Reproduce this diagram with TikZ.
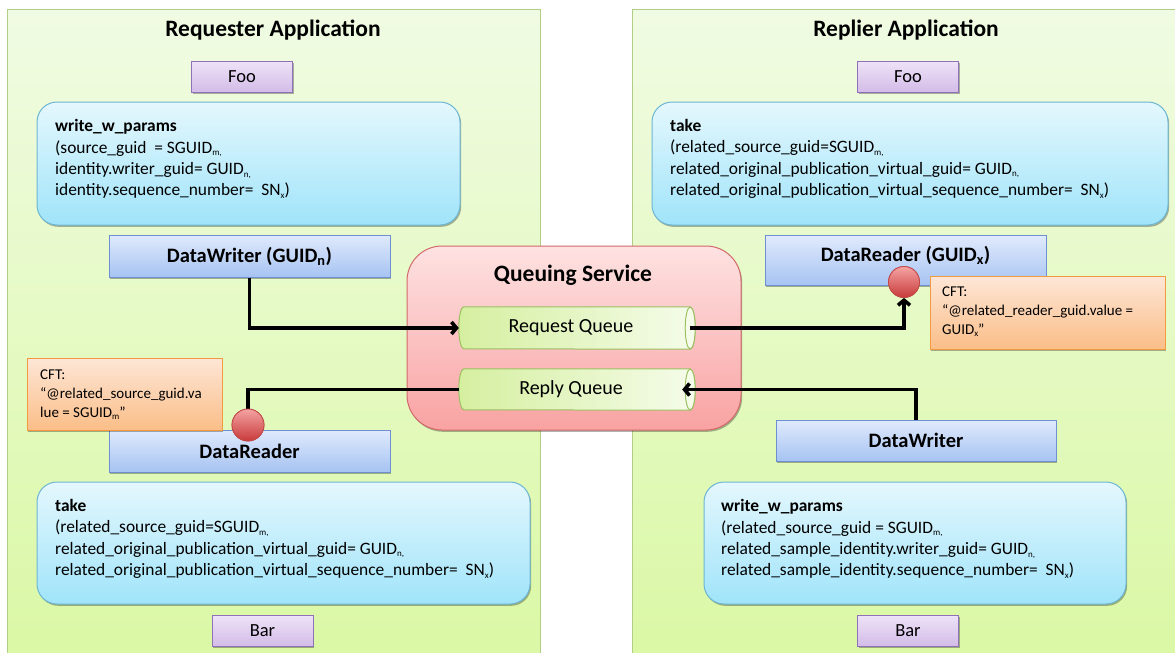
\documentclass[tikz,border=0pt]{standalone}
\usepackage{fontspec}
\setmainfont{Carlito}
\usetikzlibrary{arrows.meta,shadows}
\newcommand{\lowsub}[1]{\raisebox{-2.6pt}{\fontsize{9}{9}\selectfont #1}}
\definecolor{panelTop}{HTML}{F0FBE3}
\definecolor{panelBot}{HTML}{DAF8A4}
\definecolor{panelLine}{HTML}{B2CE86}
\definecolor{fooTop}{HTML}{EEE3F7}
\definecolor{fooBot}{HTML}{D3BCE8}
\definecolor{fooLine}{HTML}{9070B8}
\definecolor{opTop}{HTML}{E4F7FD}
\definecolor{opBot}{HTML}{A0E4FA}
\definecolor{opLine}{HTML}{6DB6D3}
\definecolor{epTop}{HTML}{E0EAFC}
\definecolor{epBot}{HTML}{A6C3F2}
\definecolor{epLine}{HTML}{6E8FD0}
\definecolor{qsTop}{HTML}{FEE2E2}
\definecolor{qsBot}{HTML}{F9A2A2}
\definecolor{qsLine}{HTML}{D26A6A}
\definecolor{qLeft}{HTML}{D5EFA0}
\definecolor{qRight}{HTML}{F5FCEA}
\definecolor{qLine}{HTML}{9DBF62}
\definecolor{cftTop}{HTML}{FDE6D6}
\definecolor{cftBot}{HTML}{FBBE88}
\definecolor{cftLine}{HTML}{F29A40}
\definecolor{ballTop}{HTML}{F5A3A3}
\definecolor{ballBot}{HTML}{C83A3A}
\definecolor{ballLine}{HTML}{C04848}
\begin{document}
\begin{tikzpicture}[x=1pt,y=-1pt,
  sh/.style={drop shadow={shadow xshift=1.2pt,shadow yshift=-1.8pt,opacity=.3,fill=black}},
  panel/.style={draw=panelLine,line width=1pt,top color=panelTop,bottom color=panelBot,inner sep=0pt},
  apptitle/.style={font=\fontsize{23.5}{28}\selectfont\bfseries},
  classbox/.style={sh,draw=fooLine,line width=1pt,top color=fooTop,bottom color=fooBot,inner sep=0pt,
    minimum width=101pt,minimum height=31pt,font=\fontsize{18.5}{22}\selectfont},
  opbox/.style={sh,draw=opLine,line width=1pt,top color=opTop,bottom color=opBot,rounded corners=20pt,inner sep=0pt},
  optext/.style={anchor=west,align=left,inner sep=0pt,font=\fontsize{17.4}{21.4}\selectfont},
  epbox/.style={sh,draw=epLine,line width=1pt,top color=epTop,bottom color=epBot,inner sep=0pt,
    minimum width=281pt,minimum height=42pt,font=\fontsize{20.5}{24}\selectfont\bfseries},
  qsbox/.style={sh,draw=qsLine,line width=1pt,top color=qsTop,bottom color=qsBot,rounded corners=35pt,inner sep=0pt},
  qbox/.style={inner sep=0pt,minimum width=231pt,minimum height=42pt},
  qbody/.style={draw=qLine,line width=1pt,left color=qLeft,right color=qRight},
  qtext/.style={inner sep=0pt,font=\fontsize{20}{24}\selectfont},
  cftbox/.style={sh,draw=cftLine,line width=1pt,top color=cftTop,bottom color=cftBot,inner sep=0pt},
  cfttext/.style={anchor=west,align=left,inner sep=0pt,font=\fontsize{15}{18.6}\selectfont},
  ball/.style={circle,draw=ballLine,line width=.8pt,top color=ballTop,bottom color=ballBot,inner sep=0pt,minimum size=31pt},
  conn/.style={line width=3.6pt,black},
  tip/.style={-{Straight Barb[length=5pt,width=12pt]}}
]
\useasboundingbox (0,0) rectangle (1175,653);

% application panels
\node[panel,minimum width=533pt,minimum height=655pt] (lp) at (273.5,337) {};
\node[panel,minimum width=545pt,minimum height=655pt] (rp) at (904.5,337) {};
\node[apptitle] (lpT) at (273,30) {Requester Application};
\node[apptitle] (rpT) at (906,30) {Replier Application};

% Foo / Bar
\node[classbox] (fooL) at (242,76.5) {Foo};
\node[classbox] (fooR) at (908,76.5) {Foo};
\node[classbox] (barL) at (262.5,630.5) {Bar};
\node[classbox] (barR) at (908,630.5) {Bar};

% operation boxes
\node[opbox,minimum width=423pt,minimum height=123pt] (opTL) at (248.5,163.5) {};
\node[optext] (tTL) at (55,159) {\textbf{write\_w\_params}\\
(source\_guid\ \ = SGUID\lowsub{m,}\\
identity.writer\_guid= GUID\lowsub{n,}\\
identity.sequence\_number=\ \ SN\lowsub{x})};

\node[opbox,minimum width=516pt,minimum height=123pt] (opTR) at (910,163.5) {};
\node[optext] (tTR) at (670,159) {\textbf{take}\\
(related\_source\_guid=SGUID\lowsub{m,}\\
related\_original\_publication\_virtual\_guid=\ GUID\lowsub{n,}\\
related\_original\_publication\_virtual\_sequence\_number=\ \ SN\lowsub{x})};

\node[opbox,minimum width=493pt,minimum height=122pt] (opBL) at (283.5,543) {};
\node[optext] (tBL) at (55,539) {\textbf{take}\\
(related\_source\_guid=SGUID\lowsub{m,}\\
related\_original\_publication\_virtual\_guid=\ GUID\lowsub{n,}\\
related\_original\_publication\_virtual\_sequence\_number=\ \ SN\lowsub{x})};

\node[opbox,minimum width=422pt,minimum height=122pt] (opBR) at (915,543) {};
\node[optext] (tBR) at (721,539) {\textbf{write\_w\_params}\\
(related\_source\_guid = SGUID\lowsub{m,}\\
related\_sample\_identity.writer\_guid= GUID\lowsub{n,}\\
related\_sample\_identity.sequence\_number=\ \ SN\lowsub{x})};

% endpoints
\node[epbox] (dwL) at (249.5,256) {DataWriter (GUID\textsubscript{n})};
\node[epbox,minimum height=50pt,text depth=13pt] (drR) at (905.5,260.5) {DataReader (GUID\textsubscript{x})};
\node[epbox] (drL) at (249.5,451) {DataReader};
\node[epbox,minimum width=280pt,minimum height=41pt] (dwR) at (916,440.5) {DataWriter};

% content filter boxes
\node[cftbox,minimum width=235pt,minimum height=73pt] (cftR) at (1047.5,312.5) {};
\node[cfttext] (cftRT) at (942,312) {CFT:\\
“@related\_reader\_guid.value =\\
GUID\lowsub{x}”};
\node[cftbox,minimum width=195pt,minimum height=72pt] (cftL) at (124.5,394) {};
\node[cfttext] (cftLT) at (40,395) {CFT:\\
“@related\_source\_guid.va\\
lue = SGUID\lowsub{m}”};

% queuing service
\node[qsbox,minimum width=334pt,minimum height=184pt] (qs) at (574,338) {};
\node[apptitle] (qsT) at (573,275) {Queuing Service};

\node[qbox] (rq) at (574.5,328) {};
\path[qbody] (rq.north east) -- ([xshift=5pt]rq.north west)
  arc[start angle=90,end angle=270,x radius=5pt,y radius=21pt]
  -- (rq.south east)
  arc[start angle=-90,end angle=90,x radius=5pt,y radius=21pt] -- cycle;
\draw[draw=qLine,line width=1pt,fill=qRight] (rq.east) ellipse[x radius=5pt,y radius=21pt];
\node[qtext] (rqT) at (571,328) {Request Queue};

\node[qbox,minimum height=41pt] (pq) at (574.5,389.5) {};
\path[qbody] (pq.north east) -- ([xshift=5pt]pq.north west)
  arc[start angle=90,end angle=270,x radius=5pt,y radius=20.5pt]
  -- (pq.south east)
  arc[start angle=-90,end angle=90,x radius=5pt,y radius=20.5pt] -- cycle;
\draw[draw=qLine,line width=1pt,fill=qRight] (pq.east) ellipse[x radius=5pt,y radius=20.5pt];
\node[qtext] (pqT) at (571,389.5) {Reply Queue};

% connectors
\node[ball] (cR) at (904,282) {};
\node[ball,minimum size=32pt] (cL) at (248,425) {};
\draw[conn,tip] (dwL.south) |- (rq.west);
\draw[conn,tip] (rq.east) -| (cR.south);
\draw[conn,tip,shorten >=-8pt] (dwR.north) |- (pq.east);
\draw[conn] (pq.west) -| (cL.north);
\node[ball] (cR2) at (cR) {};
\node[ball,minimum size=32pt] (cL2) at (cL) {};
\end{tikzpicture}
\end{document}
